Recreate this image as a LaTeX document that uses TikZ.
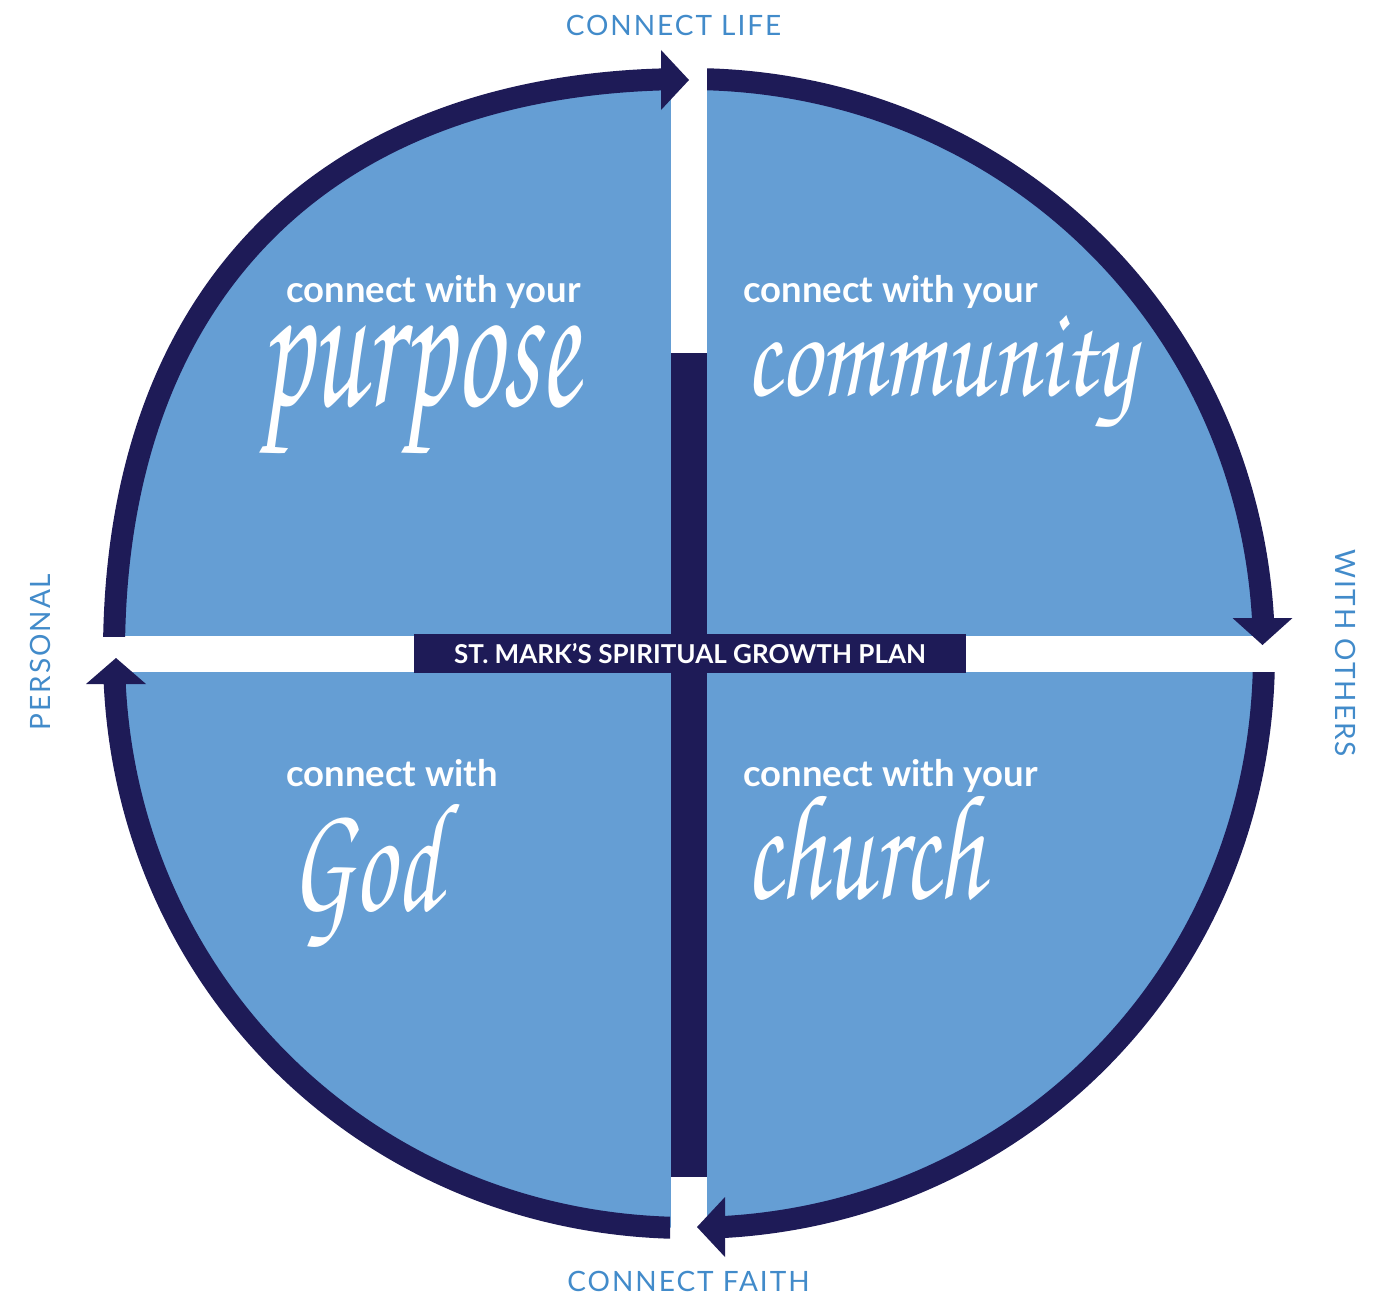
\documentclass[tikz,border=0pt]{standalone}
\usepackage{fontspec}
\setmainfont{Lato}
\newfontfamily\brush{texgyrechorus-mediumitalic.otf}
\definecolor{navy}{HTML}{1E1B57}
\definecolor{qblue}{HTML}{659ED4}
\definecolor{lblue}{HTML}{428BCA}
\begin{document}
\begin{tikzpicture}[x=1pt,y=-1pt,
  ring/.style={draw=navy, line width=22pt},
  head/.style={fill=navy},
  side/.style={text=lblue, inner sep=0, font=\fontsize{28}{30}\selectfont\addfontfeatures{LetterSpace=7}},
  lead/.style={text=white, anchor=base west, inner sep=0, font=\bfseries\fontsize{36.5}{40}\selectfont},
  word/.style={text=white, anchor=base west, inner sep=0},
  gap/.style={fill=white}]
\useasboundingbox (0,0) rectangle (1389,1298);
\coordinate (L) at (114,654);
\coordinate (T) at (689,79);
\coordinate (R) at (1264,654);
\coordinate (B) at (689,1228);
% quadrant fill
\fill[qblue] (L) .. controls (114,292) and (327,79) .. (T)
  .. controls (1011,79) and (1264,332) .. (R)
  .. controls (1264,976) and (1011,1228) .. (B)
  .. controls (367,1228) and (114,976) .. (L) -- cycle;
% white gaps
\fill[gap] (670.5,40) rectangle (707,1270);
\fill[gap] (80,636) rectangle (1310,672);
% central bar
\fill[navy] (671,353) rectangle (707,1177);
% outline arcs
\begin{scope}
  \clip (0,0) rectangle (665,636);
  \draw[ring] (L) .. controls (114,292) and (327,79) .. (T);
\end{scope}
\begin{scope}
  \clip (707,0) rectangle (1389,625);
  \draw[ring] (T) .. controls (1011,79) and (1264,332) .. (R);
\end{scope}
\begin{scope}
  \clip (712,672) rectangle (1389,1298);
  \draw[ring] (R) .. controls (1264,976) and (1011,1228) .. (B);
\end{scope}
\begin{scope}
  \clip (0,678) rectangle (670,1298);
  \draw[ring] (B) .. controls (367,1228) and (114,976) .. (L);
\end{scope}
% arrowheads
\fill[head] (661,50) -- (689,80) -- (661,110) -- cycle;
\fill[head] (1232.5,618) -- (1262.5,645) -- (1292.5,618) -- cycle;
\fill[head] (725,1197) -- (697,1227) -- (725,1257) -- cycle;
\fill[head] (86,684) -- (116,658) -- (146,684) -- cycle;
% centre label
\node[fill=navy, text=white, inner sep=0, minimum width=552pt, minimum height=39pt,
      font=\bfseries\fontsize{26}{28}\selectfont] (plan) at (690,653.5) {ST. MARK’S SPIRITUAL GROWTH PLAN};
% quadrant texts
\node[lead] (t1) at (286,302) {connect with your};
\node[lead] (t2) at (743,302) {connect with your};
\node[lead] (t3) at (286,786) {connect with};
\node[lead] (t4) at (743,786) {connect with your};
\node[word] (w1) at (260,405) {\resizebox{318pt}{80pt}{\brush purpose}};
\node[word] (w2) at (745,395) {\resizebox{390pt}{80pt}{\brush community}};
\node[word] (w3) at (290,910) {\resizebox{150pt}{106pt}{\brush God}};
\node[word] (w4) at (745,898) {\resizebox{238pt}{102pt}{\brush church}};
% side labels
\node[side] (life) at (673.5,25.5) {CONNECT LIFE};
\node[side] (faith) at (688.5,1281) {CONNECT FAITH};
\node[side, rotate=90] (personal) at (40,652) {PERSONAL};
\node[side, rotate=-90] (others) at (1346,653) {WITH OTHERS};
\end{tikzpicture}
\end{document}
